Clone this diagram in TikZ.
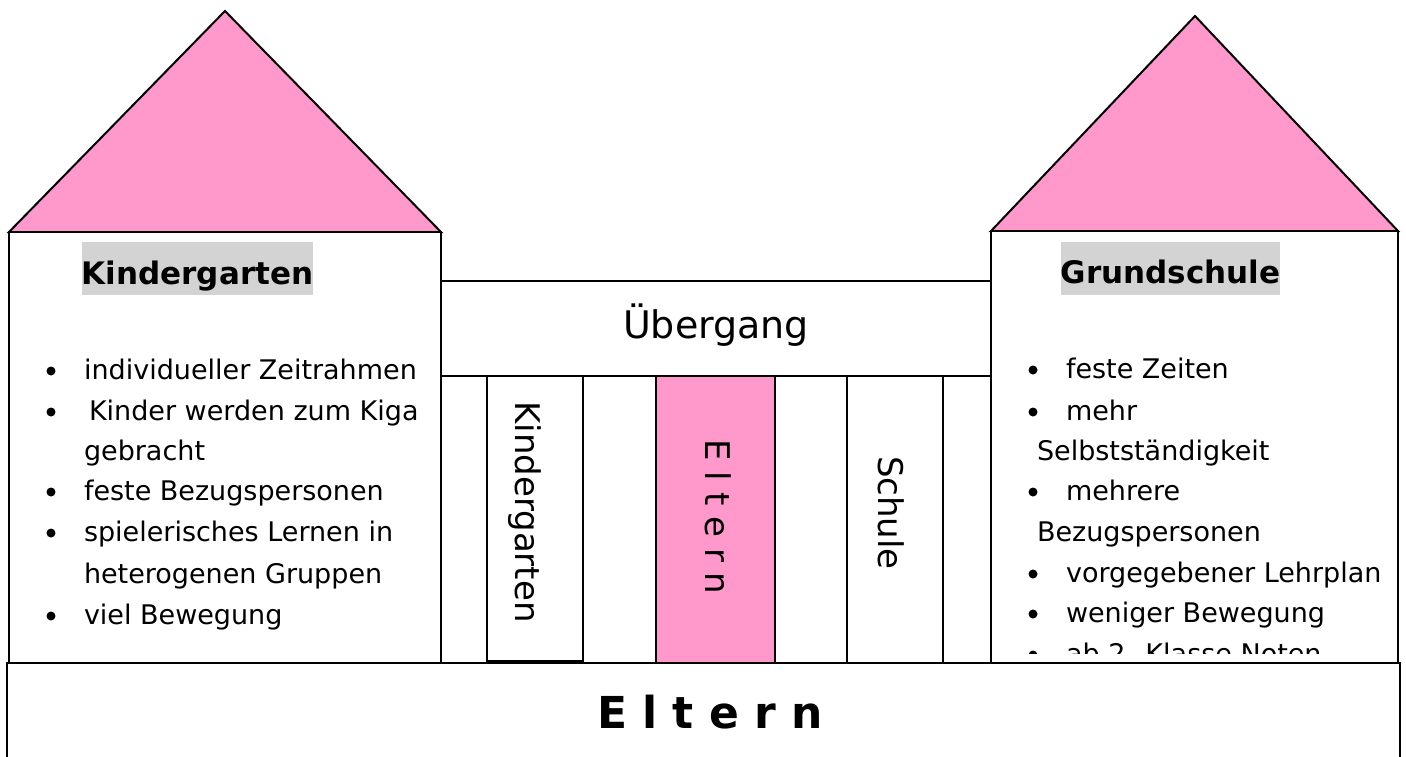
\documentclass[tikz,border=0pt]{standalone}
\usepackage{fontspec}
\setmainfont{DejaVu Sans}
\definecolor{rosa}{HTML}{FF99CC}
\definecolor{grau}{HTML}{D3D3D3}
\begin{document}
\begin{tikzpicture}[x=0.5pt, y=-0.5pt, line width=1pt,
    wand/.style={draw, fill=white},
    punkt/.style={anchor=base west, inner sep=0pt, font=\fontsize{13.5}{16}\selectfont},
    titel/.style={fill=grau, inner sep=0pt, text height=21pt, text depth=5.5pt,
      font=\bfseries\fontsize{15.5}{18}\selectfont},
    saeule/.style={rotate=-90, inner sep=0pt, font=\fontsize{17}{20}\selectfont}]
    \useasboundingbox (0,0) rectangle (1406,756);
    % Daecher und Haeuser
    \draw[fill=rosa] (9,232) -- (225,11) -- (441,232) -- cycle;
    \draw[fill=rosa] (991,231) -- (1195,16) -- (1398,231) -- cycle;
    \draw[wand] (9,232) rectangle (441,663);
    \draw[wand] (991,231) rectangle (1398,663);
    % Bruecke mit Saeulen
    \draw[wand] (441,281) rectangle (991,376);
    \draw[wand] (487,376) rectangle (583,661);
    \draw[fill=rosa] (656,376) rectangle (775,663);
    \draw[wand] (847,376) rectangle (943,663);
    \draw[wand] (7,663) rectangle (1400,780);
    % Texte
    \node[titel, minimum width=115.5pt] (kgTitel) at (197.5,268.5) {Kindergarten};
    \node[titel, minimum width=107.5pt] (gsTitel) at (1170.5,268) {Grundschule};
    \foreach \i/\xx/\yy/\txt in {1/83/379/individueller Zeitrahmen, 2/88/420/Kinder werden zum Kiga,
        3/83/460/gebracht, 4/83/500/feste Bezugspersonen, 5/83/541/spielerisches Lernen in,
        6/83/583/heterogenen Gruppen, 7/83/624/viel Bewegung}
      \node[punkt] (kg\i) at (\xx,\yy) {\txt};
    \foreach \yy in {379,420,500,541,624}
      \fill (51,\yy) ++(0,-8) circle (4.5);
    \foreach \i/\xx/\yy/\txt in {1/1065/378/feste Zeiten, 2/1065/420/mehr,
        3/1036/460/Selbstständigkeit, 4/1065/500/mehrere, 5/1036/541/Bezugspersonen,
        6/1065/582/vorgegebener Lehrplan, 7/1065/622/weniger Bewegung}
      \node[punkt] (gs\i) at (\xx,\yy) {\txt};
    \foreach \yy in {378,420,500,582,622}
      \fill (1033,\yy) ++(0,-8) circle (4.5);
    \begin{scope}
      \clip (991,231) rectangle (1398,653);
      \node[punkt] (gs8) at (1065,663) {ab 2. Klasse Noten};
      \fill (1033,655) circle (4.5);
    \end{scope}
    \node[anchor=base, font=\fontsize{19}{22}\selectfont] (uebergang) at (716,338) {Übergang};
    \node[saeule] (kgSaeule) at (525,512) {Kindergarten};
    \node[saeule] (elternSaeule) at (718,517) {E l t e r n};
    \node[saeule] (schuleSaeule) at (891,513) {Schule};
    \node[anchor=base, font=\bfseries\fontsize{22}{26}\selectfont] (eltern) at (710,728) {E l t e r n};
\end{tikzpicture}
\end{document}
